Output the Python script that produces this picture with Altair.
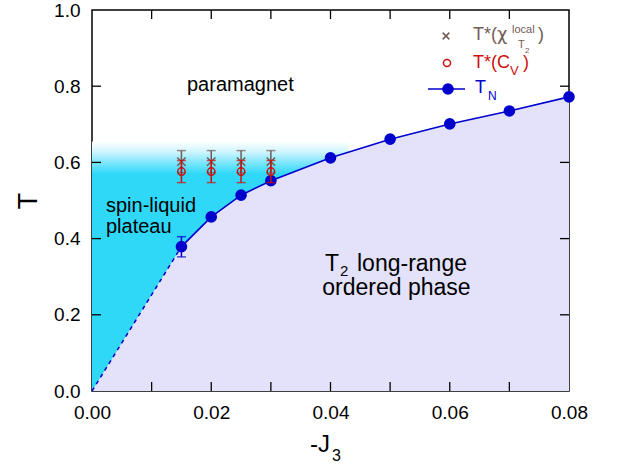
import altair as alt
import pandas as pd

# ---- data ----
tn_x = [0.015, 0.02, 0.025, 0.03, 0.04, 0.05, 0.06, 0.07, 0.08]
tn_y = [0.379, 0.457, 0.514, 0.552, 0.612, 0.661, 0.701, 0.735, 0.772]
tn_err_x = [0.015]
tn_err_lo = [0.352]
tn_err_hi = [0.405]

star_x = [0.015, 0.02, 0.025, 0.03]
cv_y = [0.576, 0.576, 0.576, 0.576]
cv_err = [0.029, 0.029, 0.029, 0.029]
chi_y = [0.602, 0.602, 0.602, 0.602]
chi_err = [0.029, 0.029, 0.029, 0.029]

dash_x = [0.0, 0.015]
dash_y = [0.0, 0.379]

plateau_x = [0.0, 0.043]
plateau_top = [0.655]

x_ticks = [0.01, 0.02, 0.03, 0.04, 0.05, 0.06, 0.07]
y_ticks = [0.2, 0.4, 0.6, 0.8]
x_labels = [0.0, 0.02, 0.04, 0.06, 0.08]
y_labels = [0.0, 0.2, 0.4, 0.6, 0.8, 1.0]

# ---- style ----
FONT = "Liberation Sans"
BLUE = "#0000CC"
RED = "#CC1010"
BROWN = "#735C56"
CYAN = "#30D8F8"
LAVENDER = "#E4E2FA"
W, H = 477, 381

xs = alt.Scale(domain=[0, 0.08], nice=False, zero=False)
ys = alt.Scale(domain=[0, 1], nice=False, zero=False)

xaxis = alt.Axis(values=x_labels, format=".2f", ticks=False, domain=False, grid=False,
                 labelFontSize=19, labelFont=FONT, labelColor="black", labelPadding=12,
                 title=None, labelFlush=False)
yaxis = alt.Axis(values=y_labels, format=".1f", ticks=False, domain=False, grid=False,
                 labelFontSize=19, labelFont=FONT, labelColor="black", labelPadding=12,
                 title=None)

one = pd.DataFrame({"a": [0]})

# plateau (cyan with fading top)
plateau_df = pd.DataFrame({"x": [plateau_x[0]], "x2": [plateau_x[1]], "y": [0.0], "y2": plateau_top})
grad = alt.Gradient(gradient="linear", x1=0, x2=0, y1=0, y2=1,
                    stops=[alt.GradientStop(color="#FFFFFF", offset=0),
                           alt.GradientStop(color="#D2F5FE", offset=0.04),
                           alt.GradientStop(color="#86E8FC", offset=0.08),
                           alt.GradientStop(color=CYAN, offset=0.13),
                           alt.GradientStop(color=CYAN, offset=1)])
plateau = alt.Chart(plateau_df).mark_rect(fill=grad).encode(
    x=alt.X("x:Q", scale=xs, axis=xaxis), x2="x2:Q",
    y=alt.Y("y:Q", scale=ys, axis=yaxis), y2="y2:Q")

# ordered phase area
area_df = pd.DataFrame({"x": [0.0] + tn_x, "y": [0.0] + tn_y})
ordered = alt.Chart(area_df).mark_area(color=LAVENDER, opacity=1, interpolate="linear").encode(
    x=alt.X("x:Q", scale=xs), y=alt.Y("y:Q", scale=ys), y2=alt.datum(0))

dash_df = pd.DataFrame({"x": dash_x, "y": dash_y})
dashed = alt.Chart(dash_df).mark_line(color=BLUE, strokeWidth=1.5, strokeDash=[4, 4]).encode(
    x=alt.X("x:Q", scale=xs), y=alt.Y("y:Q", scale=ys))

tn_df = pd.DataFrame({"x": tn_x, "y": tn_y})
tn_line = alt.Chart(tn_df).mark_line(color=BLUE, strokeWidth=1.6).encode(
    x=alt.X("x:Q", scale=xs), y=alt.Y("y:Q", scale=ys))
tn_pts = alt.Chart(tn_df).mark_point(filled=True, color=BLUE, size=135, opacity=1).encode(
    x=alt.X("x:Q", scale=xs), y=alt.Y("y:Q", scale=ys))

tnerr_df = pd.DataFrame({"x": tn_err_x, "lo": tn_err_lo, "hi": tn_err_hi})
tn_err = alt.Chart(tnerr_df).mark_rule(color=BLUE, strokeWidth=1.5).encode(
    x=alt.X("x:Q", scale=xs), y=alt.Y("lo:Q", scale=ys), y2="hi:Q")
tn_cap_lo = alt.Chart(tnerr_df).mark_tick(color=BLUE, orient="horizontal", size=9, thickness=1.5).encode(
    x=alt.X("x:Q", scale=xs), y=alt.Y("lo:Q", scale=ys))
tn_cap_hi = alt.Chart(tnerr_df).mark_tick(color=BLUE, orient="horizontal", size=9, thickness=1.5).encode(
    x=alt.X("x:Q", scale=xs), y=alt.Y("hi:Q", scale=ys))


def err_layers(yvals, errs, color):
    df = pd.DataFrame({"x": star_x, "y": yvals,
                       "lo": [v - e for v, e in zip(yvals, errs)],
                       "hi": [v + e for v, e in zip(yvals, errs)]})
    r = alt.Chart(df).mark_rule(color=color, strokeWidth=1.5).encode(
        x=alt.X("x:Q", scale=xs), y=alt.Y("lo:Q", scale=ys), y2="hi:Q")
    c1 = alt.Chart(df).mark_tick(color=color, orient="horizontal", size=9, thickness=1.5).encode(
        x=alt.X("x:Q", scale=xs), y=alt.Y("lo:Q", scale=ys))
    c2 = alt.Chart(df).mark_tick(color=color, orient="horizontal", size=9, thickness=1.5).encode(
        x=alt.X("x:Q", scale=xs), y=alt.Y("hi:Q", scale=ys))
    return df, [r, c1, c2]


XSHAPE = "M-1,-1L1,1M1,-1L-1,1"
chi_df, chi_err_layers = err_layers(chi_y, chi_err, BROWN)
chi_pts = alt.Chart(chi_df).mark_point(shape=XSHAPE, size=70, color=BROWN, strokeWidth=1.5, opacity=1).encode(
    x=alt.X("x:Q", scale=xs), y=alt.Y("y:Q", scale=ys))
cv_df, cv_err_layers = err_layers(cv_y, cv_err, RED)
cv_pts = alt.Chart(cv_df).mark_point(shape="circle", size=55, color=RED, filled=False, strokeWidth=1.5, opacity=1).encode(
    x=alt.X("x:Q", scale=xs), y=alt.Y("y:Q", scale=ys))

# inward ticks
xt_df = pd.DataFrame({"v": x_ticks})
yt_df = pd.DataFrame({"v": y_ticks})
TL = 9
ticks = [
    alt.Chart(xt_df).mark_rule(color="black", strokeWidth=1.3).encode(
        x=alt.X("v:Q", scale=xs), y=alt.value(H), y2=alt.value(H - TL)),
    alt.Chart(xt_df).mark_rule(color="black", strokeWidth=1.3).encode(
        x=alt.X("v:Q", scale=xs), y=alt.value(0), y2=alt.value(TL)),
    alt.Chart(yt_df).mark_rule(color="black", strokeWidth=1.3).encode(
        y=alt.Y("v:Q", scale=ys), x=alt.value(0), x2=alt.value(TL)),
    alt.Chart(yt_df).mark_rule(color="black", strokeWidth=1.3).encode(
        y=alt.Y("v:Q", scale=ys), x=alt.value(W), x2=alt.value(W - TL)),
]


def label(txt, x, y, size, color="black", align="left", baseline="alphabetic", angle=0, font=FONT):
    return alt.Chart(one).mark_text(text=txt, fontSize=size, color=color, align=align,
                                    baseline=baseline, font=font, angle=angle).encode(
        x=alt.value(x), y=alt.value(y))


texts = [
    label("paramagnet", 95, 81, 20),
    label("spin-liquid", 14, 202, 20),
    label("plateau", 14, 223, 20),
    label("T", 233, 261, 23),
    label("2", 248, 266, 15),
    label("long-range", 265, 261, 23),
    label("ordered phase", 304.5, 285, 23, align="center"),
    # axis titles
    label("T", -63, 191, 27, align="center", baseline="middle", angle=270),
    label("-J", 218, 442, 24),
    label("3", 240, 451, 16),
    # legend
    label("T*(", 381, 30, 18, color=BROWN),
    label("\u03c7", 405, 30, 18, color=BROWN, font="DejaVu Sans"),
    label("local", 420, 23, 11, color=BROWN),
    label("T", 426, 38, 11, color=BROWN),
    label("2", 433, 43, 8, color=BROWN),
    label(")", 446, 30, 18, color=BROWN),
    label("T*(C", 381, 58, 18, color=RED),
    label("V", 418, 65, 13, color=RED),
    label(")", 431, 58, 18, color=RED),
    label("T", 383, 83, 18, color=BLUE),
    label("N", 396, 90, 12, color=BLUE),
]

legend_marks = [
    alt.Chart(one).mark_point(shape=XSHAPE, size=45, color=BROWN, strokeWidth=1.5, opacity=1).encode(
        x=alt.value(354), y=alt.value(26)),
    alt.Chart(one).mark_point(shape="circle", size=50, color=RED, filled=False, strokeWidth=1.5, opacity=1).encode(
        x=alt.value(355), y=alt.value(53)),
    alt.Chart(one).mark_rule(color=BLUE, strokeWidth=1.6).encode(
        x=alt.value(336), x2=alt.value(373), y=alt.value(79)),
    alt.Chart(one).mark_point(filled=True, color=BLUE, size=135, opacity=1).encode(
        x=alt.value(356), y=alt.value(79)),
]

chart = alt.layer(
    plateau, ordered, dashed, tn_line, tn_err, tn_cap_lo, tn_cap_hi, tn_pts,
    *chi_err_layers, chi_pts, *cv_err_layers, cv_pts,
    *ticks, *texts, *legend_marks
).properties(
    width=W, height=H,
    autosize=alt.AutoSizeParams(type="none"),
    padding={"left": 92, "top": 10, "right": 618 - 92 - W, "bottom": 470 - 10 - H},
    background="white",
).configure_view(stroke="black", strokeWidth=1.5).configure_text(font=FONT)

chart.save("out.html", embed_options={"renderer": "svg", "actions": False})
